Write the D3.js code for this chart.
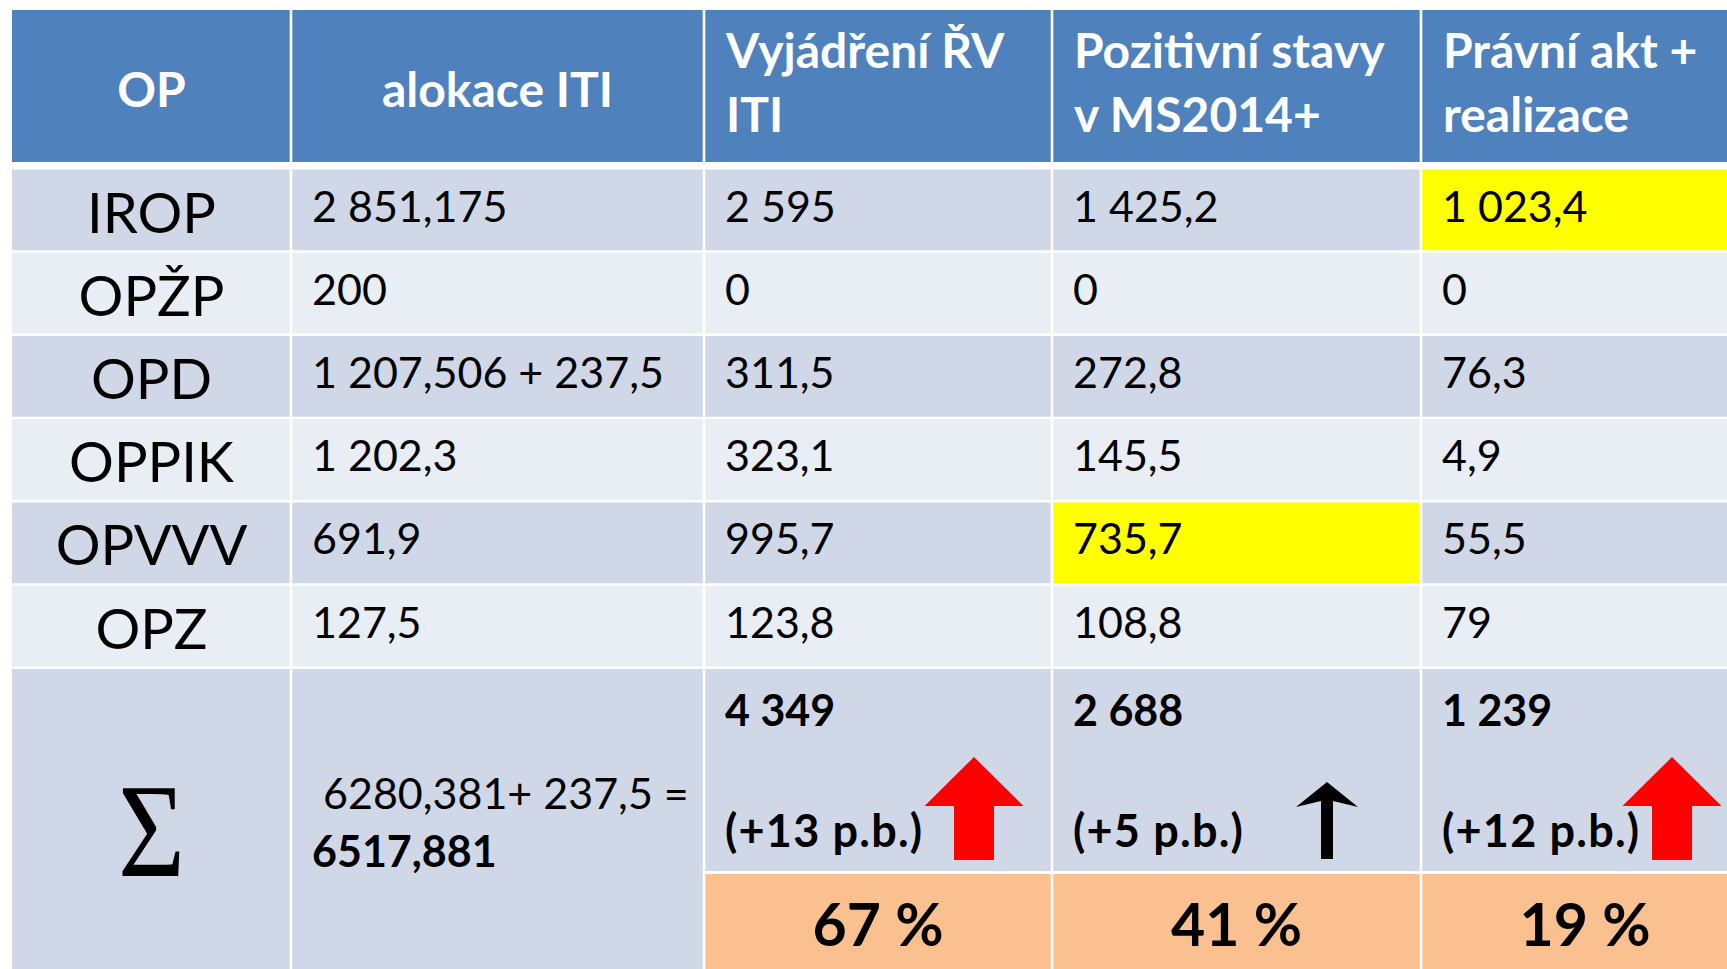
<!DOCTYPE html>
<html lang="cs">
<head>
    <meta charset="UTF-8">
    <title>ITI - čerpání podle OP</title>
    <script src="https://d3js.org/d3.v7.min.js"></script>
    <style>
        body { margin: 0; background: #fff; overflow: hidden; }
        svg { display: block; font-family: Lato, "Open Sans", sans-serif; }
        .head { fill: #fff; font-weight: bold; font-size: 48px; }
        .cell { fill: #000; font-size: 43px; }
        .label { fill: #000; font-size: 56px; }
        .bold { font-weight: bold; }
        .change { font-size: 45px; letter-spacing: 1.2px; }
    </style>
</head>
<body>
<svg id="table" width="1727" height="969"></svg>
<script>
    // column headers (split into lines as on the slide)
    const headers = [["OP"], ["alokace ITI"], ["Vyjádření ŘV", "ITI"], ["Pozitivní stavy", "v MS2014+"], ["Právní akt +", "realizace"]];
    const programs = ["IROP", "OPŽP", "OPD", "OPPIK", "OPVVV", "OPZ"];
    const alokace = ["2 851,175", "200", "1 207,506 + 237,5", "1 202,3", "691,9", "127,5"];
    const vyjadreni = ["2 595", "0", "311,5", "323,1", "995,7", "123,8"];
    const pozitivni = ["1 425,2", "0", "272,8", "145,5", "735,7", "108,8"];
    const pravni = ["1 023,4", "0", "76,3", "4,9", "55,5", "79"];
    const highlighted = [["IROP", 4], ["OPVVV", 3]];

    // summary row
    const sumAlokace = [" 6280,381+ 237,5 =", "6517,881"];
    const sumTotals = ["4 349", "2 688", "1 239"];
    const sumChange = ["(+13 p.b.)", "(+5 p.b.)", "(+12 p.b.)"];
    const sumShare = ["67 %", "41 %", "19 %"];
    const changeArrow = ["block", "thin", "block"];

    const colors = { head: "#4F81BD", dark: "#D0D8E8", light: "#E9EDF4", share: "#FAC090", mark: "#FFFF00", arrow: "#FF0000" };

    const svg = d3.select("#table");

    // layout
    const edges = [12, 291, 704, 1052, 1421, 1749];
    const x = d3.scaleOrdinal().domain(d3.range(5)).range(edges);
    const w = i => edges[i + 1] - edges[i];
    const gap = 1.3;
    const left = i => x(i) + (i > 0 ? gap : 0);
    const width = i => w(i) - (i > 0 ? gap : 0) - gap;

    const y = d3.scaleBand().domain(programs).range([169.5, 666.5]).paddingInner(0.03);
    const headTop = 10, headBottom = 162;
    const sumTop = 669, sumSplit = 871, shareTop = 874, bottom = 980;

    const columns = [programs, alokace, vyjadreni, pozitivni, pravni];

    // header
    const head = svg.append("g");
    headers.forEach((lines, i) => {
        head.append("rect")
            .attr("x", left(i)).attr("y", headTop)
            .attr("width", width(i)).attr("height", headBottom - headTop)
            .attr("fill", colors.head);
        const t = head.append("text").attr("class", "head");
        if (lines.length === 1) {
            t.attr("x", x(i) + w(i) / 2).attr("y", 107).attr("text-anchor", "middle").text(lines[0]);
        } else {
            t.selectAll("tspan").data(lines).enter().append("tspan")
                .attr("x", x(i) + 22)
                .attr("y", (d, k) => 68 + k * 64)
                .text(d => d);
        }
    });

    // body rows
    const body = svg.append("g");
    programs.forEach((p, r) => {
        const band = r % 2 === 0 ? colors.dark : colors.light;
        columns.forEach((col, i) => {
            const mark = highlighted.some(h => h[0] === p && h[1] === i);
            body.append("rect")
                .attr("x", left(i)).attr("y", y(p))
                .attr("width", width(i)).attr("height", y.bandwidth())
                .attr("fill", mark ? colors.mark : band);
            if (i === 0) {
                body.append("text").attr("class", "label")
                    .attr("x", x(i) + w(i) / 2).attr("y", y(p) + 63)
                    .attr("text-anchor", "middle").text(col[r]);
            } else {
                body.append("text").attr("class", "cell")
                    .attr("x", x(i) + 21).attr("y", y(p) + 52)
                    .text(col[r]);
            }
        });
    });

    // summary row
    const sum = svg.append("g");
    [0, 1].forEach(i => {
        sum.append("rect")
            .attr("x", left(i)).attr("y", sumTop)
            .attr("width", width(i)).attr("height", bottom - sumTop)
            .attr("fill", colors.dark);
    });
    sum.append("text")
        .attr("x", x(0) + w(0) / 2).attr("y", 876)
        .attr("text-anchor", "middle")
        .attr("font-family", "'Liberation Serif', 'DejaVu Serif', serif")
        .attr("font-size", 134)
        .attr("transform", `translate(${x(0) + w(0) / 2},0) scale(0.86,1) translate(${-(x(0) + w(0) / 2)},0)`)
        .text("Σ");
    sum.append("text").attr("class", "cell")
        .attr("x", x(1) + 21).attr("y", 809)
        .style("white-space", "pre")
        .text(sumAlokace[0]);
    sum.append("text").attr("class", "cell bold")
        .attr("x", x(1) + 21).attr("y", 867)
        .text(sumAlokace[1]);

    const arrowOffset = [270, 275, 251];
    sumTotals.forEach((v, k) => {
        const i = k + 2;
        sum.append("rect")
            .attr("x", left(i)).attr("y", sumTop)
            .attr("width", width(i)).attr("height", sumSplit - sumTop)
            .attr("fill", colors.dark);
        sum.append("rect")
            .attr("x", left(i)).attr("y", shareTop)
            .attr("width", width(i)).attr("height", bottom - shareTop)
            .attr("fill", colors.share);
        sum.append("text").attr("class", "cell bold")
            .attr("x", x(i) + 21).attr("y", 726).text(v);
        sum.append("text").attr("class", "cell bold change")
            .attr("x", x(i) + 21).attr("y", 847).text(sumChange[k]);
        sum.append("text").attr("class", "cell bold")
            .attr("x", x(i) + w(i) / 2).attr("y", 946)
            .attr("text-anchor", "middle")
            .style("font-size", "59px")
            .text(sumShare[k]);

        const cx = x(i) + arrowOffset[k];
        if (changeArrow[k] === "block") {
            const pts = [[cx, 757], [cx + 49.5, 806], [cx + 20, 806], [cx + 20, 860],
                         [cx - 20, 860], [cx - 20, 806], [cx - 49.5, 806]];
            sum.append("path").attr("d", d3.line()(pts) + "Z").attr("fill", colors.arrow);
        } else {
            const pts = [[cx, 782], [cx + 31, 807], [cx + 6, 801], [cx + 6, 859],
                         [cx - 6, 859], [cx - 6, 801], [cx - 31, 807]];
            sum.append("path").attr("d", d3.line()(pts) + "Z").attr("fill", "#000");
        }
    });
</script>
</body>
</html>
